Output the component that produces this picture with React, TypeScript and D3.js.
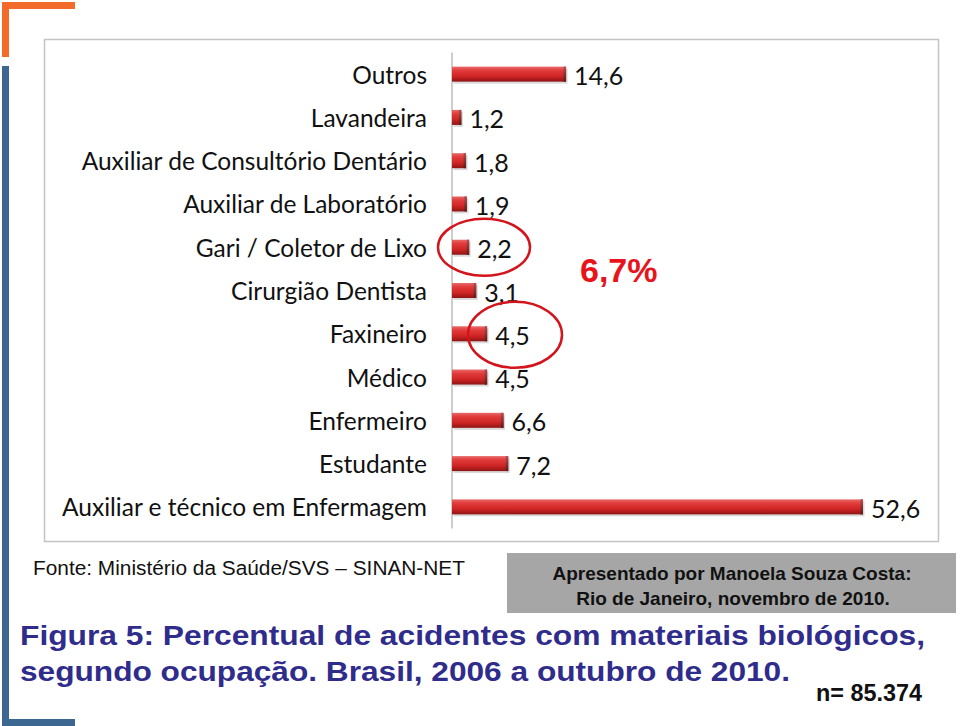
import React from "react";
import * as d3 from "d3";

const categories = [
  "Outros",
  "Lavandeira",
  "Auxiliar de Consultório Dentário",
  "Auxiliar de Laboratório",
  "Gari / Coletor de Lixo",
  "Cirurgião Dentista",
  "Faxineiro",
  "Médico",
  "Enfermeiro",
  "Estudante",
  "Auxiliar e técnico em Enfermagem",
];
const values = [14.6, 1.2, 1.8, 1.9, 2.2, 3.1, 4.5, 4.5, 6.6, 7.2, 52.6];
const circled = ["Gari / Coletor de Lixo", "Faxineiro"];
const highlightLabel = "6,7%";
const sourceText = "Fonte: Ministério da Saúde/SVS – SINAN-NET";
const boxLines = ["Apresentado por Manoela Souza Costa:", "Rio de Janeiro, novembro de 2010."];
const titleLines = [
  "Figura 5: Percentual de acidentes com materiais biológicos,",
  "segundo ocupação. Brasil, 2006 a outubro de 2010.",
];
const nText = "n= 85.374";

const W = 960;
const H = 726;

export default function App() {
  const x = d3.scaleLinear().domain([0, 52.6]).range([452, 863]);
  const y = d3.scaleBand<string>().domain(categories).range([52.5, 528.5]).paddingInner(0.62).paddingOuter(0.31);
  const fmt = (v: number) => d3.format(".1f")(v).replace(".", ",");
  const bh = 15;
  const cy = (c: string) => (y(c) as number) + y.bandwidth() / 2;
  const labelFont = "Lato, 'Open Sans', sans-serif";
  const arial = "'Liberation Sans', Arial, sans-serif";

  return (
    <div style={{ position: "absolute", left: 0, top: 0 }}>
      <svg width={W} height={H} style={{ display: "block", background: "#fff" }}>
        <defs>
          <linearGradient id="barGrad" x1="0" y1="0" x2="0" y2="1">
            <stop offset="0%" stopColor="#e86a6a" />
            <stop offset="25%" stopColor="#e23c3c" />
            <stop offset="65%" stopColor="#cf2424" />
            <stop offset="100%" stopColor="#8e1414" />
          </linearGradient>
          <linearGradient id="capGrad" x1="0" y1="0" x2="0" y2="1">
            <stop offset="0%" stopColor="#b05050" />
            <stop offset="100%" stopColor="#5a1a1a" />
          </linearGradient>
        </defs>

        {/* decorative corner bars */}
        <rect x={2} y={2} width={73} height={7} fill="#f26b2a" />
        <rect x={2} y={2} width={7} height={55} fill="#f26b2a" />
        <rect x={2} y={66} width={7} height={660} fill="#3b6790" />
        <rect x={2} y={719} width={73} height={7} fill="#3b6790" />

        {/* chart frame */}
        <rect x={44.5} y={39.5} width={894} height={502} fill="#fff" stroke="#c4c4c4" strokeWidth={1.5} />

        {/* axis line */}
        <line x1={452} x2={452} y1={y.range()[0]} y2={y.range()[1]} stroke="#bdbdbd" strokeWidth={1.5} />

        {categories.map((c, i) => {
          const v = values[i];
          const yc = cy(c);
          const x0 = x(0);
          const x1 = x(v);
          return (
            <g key={c}>
              <text
                x={427}
                y={yc}
                textAnchor="end"
                dominantBaseline="central"
                fontFamily={labelFont}
                fontSize={24.5}
                fill="#111"
              >
                {c}
              </text>
              <rect x={x0 + 1.5} y={yc - bh / 2 + 2} width={x1 - x0} height={bh} fill="#000" opacity={0.15} />
              <rect x={x0} y={yc - bh / 2} width={x1 - x0} height={bh} fill="url(#barGrad)" />
              <rect x={x1 - 2.5} y={yc - bh / 2} width={2.5} height={bh} fill="url(#capGrad)" />
              <text
                x={x1 + 8}
                y={yc + 1}
                dominantBaseline="central"
                fontFamily={labelFont}
                fontSize={25}
                fill="#111"
              >
                {fmt(v)}
              </text>
            </g>
          );
        })}

        {/* circles */}
        <ellipse cx={484} cy={cy(circled[0])} rx={46} ry={28.5} fill="none" stroke="#d4141c" strokeWidth={2.5} />
        <ellipse cx={515} cy={cy(circled[1]) + 1} rx={47} ry={33} fill="none" stroke="#d4141c" strokeWidth={2.5} />
        <text x={580} y={282} fontFamily={arial} fontWeight="bold" fontSize={34} fill="#e8141c">
          {highlightLabel}
        </text>

        {/* source */}
        <text x={33} y={575} fontFamily={arial} fontSize={19.5} fill="#111" textLength={432} lengthAdjust="spacingAndGlyphs">
          {sourceText}
        </text>

        {/* gray box */}
        <rect x={507} y={553} width={449} height={60} fill="#a6a6a6" />
        <text x={732} y={580} textAnchor="middle" fontFamily={arial} fontWeight="bold" fontSize={19} fill="#111">
          {boxLines[0]}
        </text>
        <text x={733} y={605} textAnchor="middle" fontFamily={arial} fontWeight="bold" fontSize={19} fill="#111">
          {boxLines[1]}
        </text>

        {/* title */}
        <text x={20} y={645} fontFamily={arial} fontWeight="bold" fontSize={28} fill="#2f2c8c" textLength={905} lengthAdjust="spacingAndGlyphs">
          {titleLines[0]}
        </text>
        <text x={20} y={681} fontFamily={arial} fontWeight="bold" fontSize={28} fill="#2f2c8c" textLength={770} lengthAdjust="spacingAndGlyphs">
          {titleLines[1]}
        </text>

        <text x={816} y={701} fontFamily={arial} fontWeight="bold" fontSize={24} fill="#111" textLength={106} lengthAdjust="spacingAndGlyphs">
          {nText}
        </text>
      </svg>
    </div>
  );
}
